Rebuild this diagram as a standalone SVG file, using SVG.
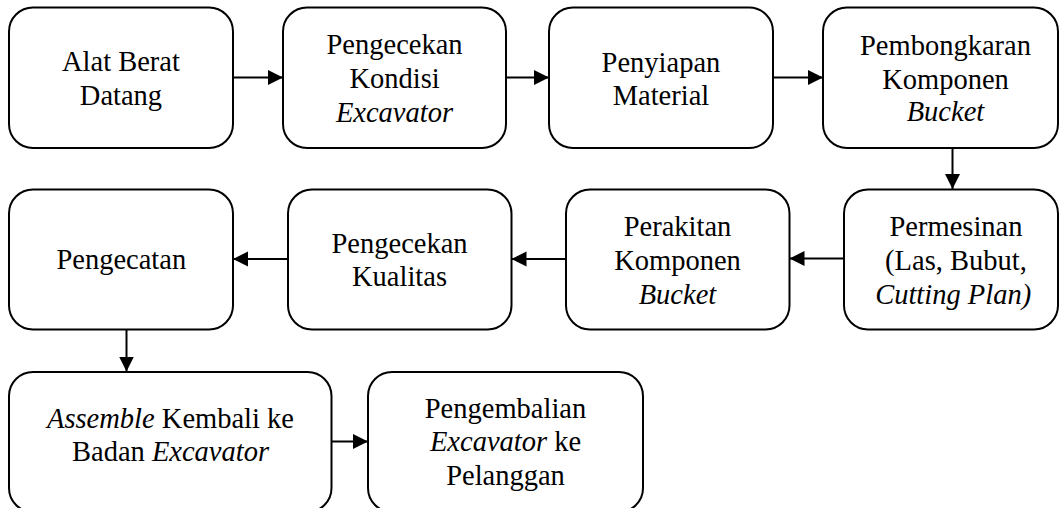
<svg xmlns="http://www.w3.org/2000/svg" width="1060" height="508" viewBox="0 0 1060 508">
<defs>
<marker id="ah" markerUnits="userSpaceOnUse" markerWidth="16" markerHeight="16" refX="15" refY="7.5" orient="auto">
<path d="M0,0 L15,7.5 L0,15 z" fill="#000"/>
</marker>
</defs>
<rect width="1060" height="508" fill="#fff"/>
<g id="connectors" stroke="#000" stroke-width="2" fill="none" marker-end="url(#ah)">
<line x1="233" y1="77.5" x2="283" y2="77.5"/>
<line x1="506" y1="77.5" x2="549" y2="77.5"/>
<line x1="773" y1="77.5" x2="823" y2="77.5"/>
<line x1="952.5" y1="148" x2="952.5" y2="189"/>
<line x1="844" y1="258.5" x2="789.5" y2="258.5"/>
<line x1="566" y1="259" x2="511.5" y2="259"/>
<line x1="288" y1="259" x2="233" y2="259"/>
<line x1="126.5" y1="329" x2="126.5" y2="371.5"/>
<line x1="332" y1="441.5" x2="368" y2="441.5"/>
</g>
<g id="n1"><rect x="9" y="7.5" width="224" height="140.5" rx="24" fill="#fff" stroke="#000" stroke-width="2"/>
<text x="62" y="71" font-family="Liberation Serif" font-size="28.5">Alat Berat</text>
<text x="79.8" y="105" font-family="Liberation Serif" font-size="28.5">Datang</text></g>
<g id="n2"><rect x="283" y="7.5" width="223" height="140.5" rx="24" fill="#fff" stroke="#000" stroke-width="2"/>
<text x="326.5" y="53.5" font-family="Liberation Serif" font-size="28.5">Pengecekan</text>
<text x="349.4" y="88" font-family="Liberation Serif" font-size="28.5">Kondisi</text>
<text x="335.9" y="122" font-family="Liberation Serif" font-size="28.5" font-style="italic">Excavator</text></g>
<g id="n3"><rect x="549" y="7.5" width="224" height="140.5" rx="24" fill="#fff" stroke="#000" stroke-width="2"/>
<text x="601.6" y="71.5" font-family="Liberation Serif" font-size="28.5">Penyiapan</text>
<text x="612.7" y="105" font-family="Liberation Serif" font-size="28.5">Material</text></g>
<g id="n4"><rect x="823" y="7.5" width="235" height="140.5" rx="24" fill="#fff" stroke="#000" stroke-width="2"/>
<text x="860" y="54.5" font-family="Liberation Serif" font-size="28.5">Pembongkaran</text>
<text x="882.2" y="88.5" font-family="Liberation Serif" font-size="28.5">Komponen</text>
<text x="906.7" y="121" font-family="Liberation Serif" font-size="28.5" font-style="italic">Bucket</text></g>
<g id="n5"><rect x="844" y="189.5" width="214" height="140" rx="24" fill="#fff" stroke="#000" stroke-width="2"/>
<text x="889.5" y="236" font-family="Liberation Serif" font-size="28.5">Permesinan</text>
<text x="885.1" y="270" font-family="Liberation Serif" font-size="28.5">(Las, Bubut,</text>
<text x="875.2" y="303.5" font-family="Liberation Serif" font-size="28.5" font-style="italic">Cutting Plan)</text></g>
<g id="n6"><rect x="566" y="189.5" width="223.5" height="140" rx="24" fill="#fff" stroke="#000" stroke-width="2"/>
<text x="623.7" y="236" font-family="Liberation Serif" font-size="28.5">Perakitan</text>
<text x="614.2" y="270" font-family="Liberation Serif" font-size="28.5">Komponen</text>
<text x="638.7" y="303.5" font-family="Liberation Serif" font-size="28.5" font-style="italic">Bucket</text></g>
<g id="n7"><rect x="288" y="189.5" width="223.5" height="140" rx="24" fill="#fff" stroke="#000" stroke-width="2"/>
<text x="331.5" y="252.5" font-family="Liberation Serif" font-size="28.5">Pengecekan</text>
<text x="352" y="286" font-family="Liberation Serif" font-size="28.5">Kualitas</text></g>
<g id="n8"><rect x="9" y="189.5" width="224" height="140" rx="24" fill="#fff" stroke="#000" stroke-width="2"/>
<text x="56.4" y="269" font-family="Liberation Serif" font-size="28.5">Pengecatan</text></g>
<g id="n9"><rect x="9" y="372" width="322.5" height="140" rx="24" fill="#fff" stroke="#000" stroke-width="2"/>
<text x="170.5" y="427.5" font-family="Times New Roman" font-size="28.5" text-anchor="middle"><tspan font-style="italic">Assemble</tspan> Kembali ke</text>
<text x="170.5" y="461" font-family="Times New Roman" font-size="28.5" text-anchor="middle">Badan <tspan font-style="italic">Excavator</tspan></text></g>
<g id="n10"><rect x="368" y="372" width="275" height="140" rx="24" fill="#fff" stroke="#000" stroke-width="2"/>
<text x="505.5" y="417.5" font-family="Times New Roman" font-size="28.5" text-anchor="middle">Pengembalian</text>
<text x="505.5" y="451" font-family="Times New Roman" font-size="28.5" text-anchor="middle"><tspan font-style="italic">Excavator</tspan> ke</text>
<text x="505.5" y="484.5" font-family="Times New Roman" font-size="28.5" text-anchor="middle">Pelanggan</text></g>
</svg>
